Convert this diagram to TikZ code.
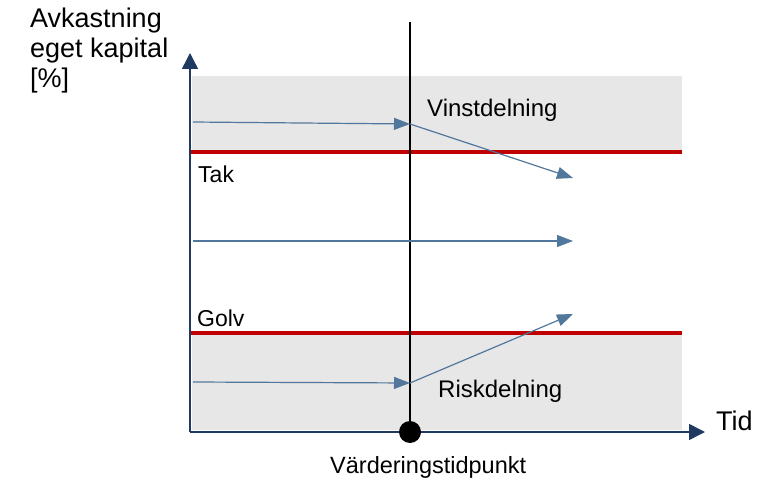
\documentclass[tikz,border=0pt]{standalone}
\usepackage{fontspec}
\setmainfont{Liberation Sans}
\usetikzlibrary{arrows.meta}
\definecolor{axisc}{HTML}{1F3A60}
\definecolor{arrc}{HTML}{52779C}
\definecolor{bandc}{HTML}{E7E7E7}
\definecolor{redc}{HTML}{C00000}
\begin{document}
\begin{tikzpicture}[x=1pt,y=-1pt,
  axisline/.style={draw=axisc,line width=1.5pt,-{Triangle[length=16pt,width=16pt]}},
  flow/.style={draw=arrc,line width=1.2pt,-{Triangle[length=16pt,width=12pt]}},
  limitline/.style={draw=redc,line width=4pt},
  band/.style={fill=bandc,draw=none},
  lbl/.style={inner sep=0pt,anchor=base west},
  ylabfont/.style={font=\fontsize{27}{29.5}\selectfont}]
\useasboundingbox (0,0) rectangle (766,481);
% bands
\fill[band] (192,76) rectangle (682,152);
\fill[band] (192,333) rectangle (682,430);
% limit lines
\coordinate (takL) at (190,152);
\coordinate (takR) at (682,152);
\coordinate (golvL) at (190,333);
\coordinate (golvR) at (682,333);
\draw[limitline] (takL) -- (takR);
\draw[limitline] (golvL) -- (golvR);
% axes
\coordinate (O) at (190,432);
\coordinate (ytop) at (190,53);
\coordinate (xend) at (705,432);
\draw[axisline] (O) -- (ytop);
\draw[axisline] (O) -- (xend);
% valuation time line
\coordinate (vtop) at (410,22);
\coordinate (vbot) at (410,432);
\draw[black,line width=2.5pt] (vtop) -- (vbot);
\fill[black] (vbot) circle (11);
% flows
\coordinate (a1) at (193,122);
\coordinate (a2) at (410,124);
\coordinate (a3) at (573,178);
\coordinate (b1) at (193,241);
\coordinate (b2) at (573,241);
\coordinate (c1) at (193,382);
\coordinate (c2) at (410,383);
\coordinate (c3) at (573,314);
\draw[flow] (a1) -- (a2);
\draw[flow] (a2) -- (a3);
\draw[flow] (b1) -- (b2);
\draw[flow] (c1) -- (c2);
\draw[flow] (c2) -- (c3);
% labels
\node[lbl,ylabfont] (ylab1) at (30,28) {Avkastning};
\node[lbl,ylabfont] (ylab2) at (30,58) {eget kapital};
\node[lbl,ylabfont] (ylab3) at (30,88) {[\%]};
\node[lbl,font=\fontsize{24}{28}\selectfont] (vinst) at (427,117) {Vinstdelning};
\node[lbl,font=\fontsize{24}{28}\selectfont] (risk) at (438,397) {Riskdelning};
\node[lbl,font=\fontsize{23}{28}\selectfont] (tak) at (198,183) {Tak};
\node[lbl,font=\fontsize{23}{28}\selectfont] (golv) at (197,326) {Golv};
\node[lbl,font=\fontsize{27}{28}\selectfont] (tid) at (716,430) {Tid};
\node[lbl,font=\fontsize{23.5}{28}\selectfont] (vtp) at (330,473) {Värderingstidpunkt};
\end{tikzpicture}
\end{document}
